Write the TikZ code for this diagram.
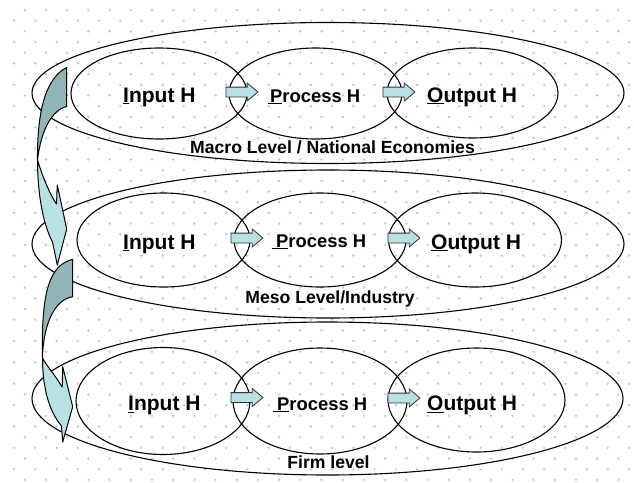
\documentclass[tikz,border=0pt]{standalone}
\usepackage{fontspec}
\setmainfont{Liberation Sans}
\usetikzlibrary{shapes.geometric,shapes.arrows}
\definecolor{dotc}{HTML}{B3C6EA}
\definecolor{cyanfill}{HTML}{B9E0E3}
\definecolor{tealback}{HTML}{93B4B4}
\tikzset{
  ring/.style={draw=black, line width=1.1pt, ellipse, inner sep=0pt},
  hlabel/.style={font=\bfseries\fontsize{21}{21}\selectfont, anchor=base west, inner sep=0pt},
  plabel/.style={font=\bfseries\fontsize{18.4}{18.4}\selectfont, anchor=base west, inner sep=0pt},
  lvllabel/.style={font=\bfseries\fontsize{17.6}{17.6}\selectfont, anchor=base, inner sep=0pt},
  flow/.style={single arrow, draw=black!80, fill=cyanfill, line width=0.8pt,
    inner xsep=0pt, inner ysep=4.5pt, minimum height=32pt,
    single arrow head extend=4pt, single arrow tip angle=80},
  bendfront/.style={draw=black, fill=cyanfill, line width=1pt, line join=round},
  bendback/.style={draw=black, fill=tealback, line width=1pt, line join=round},
}
\begin{document}
\begin{tikzpicture}[x=1pt,y=-1pt]
\useasboundingbox (0,0) rectangle (634,482);
\fill[white] (0,0) rectangle (634,482);
% dotted grid paper
\foreach \r in {0,...,44}{
  \foreach \c in {0,...,29}{
    \fill[dotc] ({14.2+10.6*(1-mod(\r,2))+21.2*\c},{10+10.68*\r}) circle (1.3pt);
  }
}

% ---------- macro level ----------
\node[ring, minimum width=592pt, minimum height=141pt] (lvl1) at (328,93) {};
\node[ring, minimum width=176pt, minimum height=91pt] (in1) at (159,93.5) {};
\node[ring, minimum width=173pt, minimum height=91pt] (pr1) at (315.5,93.5) {};
\node[ring, minimum width=171pt, minimum height=90pt] (out1) at (472.5,93) {};
\node[hlabel] (tin1) at (123,102) {\underline{I}nput H};
\node[plabel] (tpr1) at (268,102) {\underline{\hspace{2pt}P}rocess H};
\node[hlabel] (tout1) at (427,102) {\underline{O}utput H};
\node[flow] (f11) at (239,92) {};
\node[flow] (f12) at (396,92) {};
\node[lvllabel] (l1) at (332.5,153) {Macro Level / National Economies};

% ---------- meso level ----------
\node[ring, minimum width=592pt, minimum height=148pt] (lvl2) at (328,244) {};
\node[ring, minimum width=173pt, minimum height=94pt] (in2) at (163.5,240) {};
\node[ring, minimum width=172pt, minimum height=94pt] (pr2) at (320,240) {};
\node[ring, minimum width=173pt, minimum height=94pt] (out2) at (475,240) {};
\node[hlabel] (tin2) at (123,249) {\underline{I}nput H};
\node[plabel] (tpr2) at (272,247) {\underline{\hspace{4pt}P}rocess H};
\node[hlabel] (tout2) at (431,249) {\underline{O}utput H};
\node[flow] (f21) at (244,238) {};
\node[flow] (f22) at (401,238) {};
\node[lvllabel] (l2) at (330,303) {Meso Level/Industry};

% ---------- firm level ----------
\node[ring, minimum width=591pt, minimum height=153pt] (lvl3) at (327.5,398.5) {};
\node[ring, minimum width=174pt, minimum height=107pt] (in3) at (163,401) {};
\node[ring, minimum width=174pt, minimum height=106pt] (pr3) at (320,401) {};
\node[ring, minimum width=177pt, minimum height=104pt] (out3) at (476.5,400) {};
\node[hlabel] (tin3) at (128,410.5) {\underline{I}nput H};
\node[plabel] (tpr3) at (273,410) {\underline{\hspace{4pt}P}rocess H};
\node[hlabel] (tout3) at (427,410.5) {\underline{O}utput H};
\node[flow] (f31) at (244,397.5) {};
\node[flow] (f32) at (401,398) {};
\node[lvllabel] (l3) at (328.5,468) {Firm level};

% ---------- curved arrows linking the levels ----------
% upper: twisted back face, then front face with the head
\path[bendback] (66.7,67.5) .. controls (48,77) and (37,105) .. (37.5,160)
  .. controls (41,130) and (52,110) .. (66.7,106.5) -- cycle;
\path[bendfront] (37.5,160) .. controls (37.5,190) and (42,222) .. (52.5,242)
  -- (57.3,265) -- (66.7,229) -- (57.3,185) -- (56.5,204)
  .. controls (50,195) and (42,175) .. (37.5,160) -- cycle;
% lower
\path[bendback] (72.7,259.3) .. controls (50,265) and (41,290) .. (42.5,358)
  .. controls (43,330) and (52,300) .. (72.7,296.7) -- cycle;
\path[bendfront] (42.5,358) .. controls (42.5,385) and (48,410) .. (61.5,426)
  -- (62.7,442) -- (72.7,406.7) -- (62.7,366.7) -- (62.2,387)
  .. controls (55,375) and (46,365) .. (42.5,358) -- cycle;
\end{tikzpicture}
\end{document}
